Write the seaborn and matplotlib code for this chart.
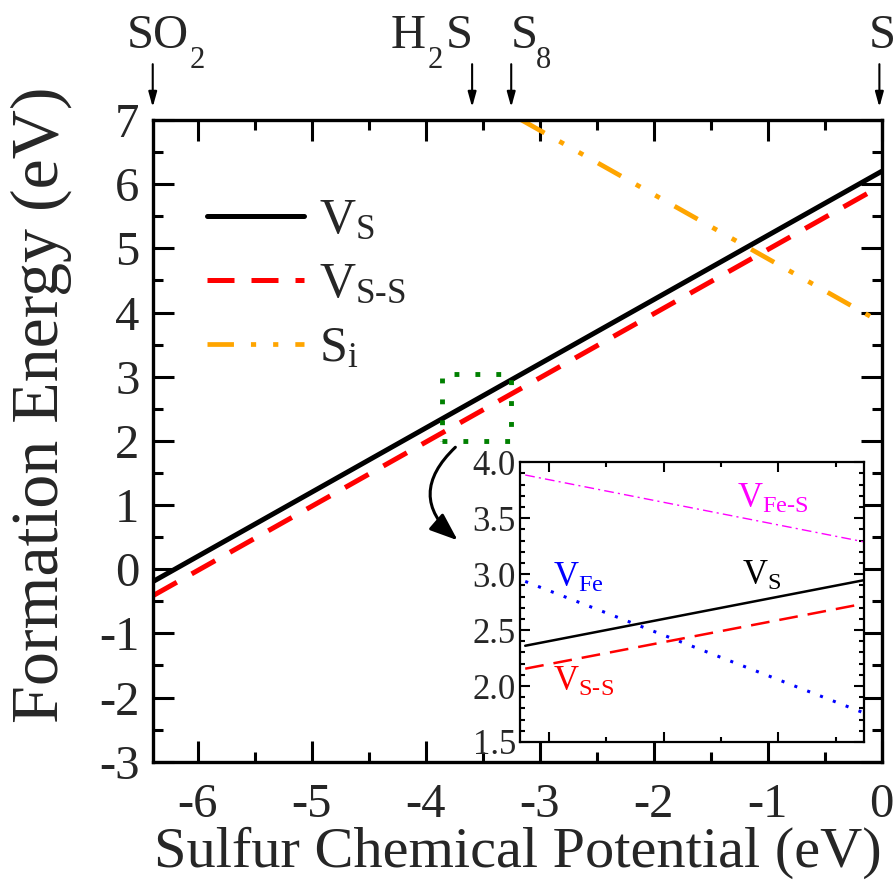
import numpy as np
import pandas as pd
import matplotlib
matplotlib.use("Agg")
import matplotlib.pyplot as plt
import matplotlib.transforms as mtransforms
from matplotlib.patches import Rectangle
import seaborn as sns

# Formation energies vs sulfur chemical potential (endpoints of each line, eV)
mu_vs = [-6.39, 0.0]
e_vs = [-0.19, 6.20]
mu_vss = [-6.39, 0.0]
e_vss = [-0.41, 5.98]
mu_si = [-3.16, -0.09]
e_si = [7.00, 3.93]

# Zoomed region (inset)
mu_inset = [-3.841, -3.252]
inset_vs = [2.36, 2.945]
inset_vss = [2.155, 2.735]
inset_vfe = [2.935, 1.762]
inset_vfes = [3.886, 3.29]

# Reference chemical potentials marked above the axes
ref_mu = [-6.395, -3.593, -3.25, -0.02]
# label pieces: (text, is_subscript, x offset in pixels from the arrow)
ref_labels = [
    [("SO", False, -26), ("2", True, 37)],
    [("H", False, -81), ("2", True, -44), ("S", False, -26)],
    [("S", False, 0), ("8", True, 25)],
    [("S", False, -11)],
]

sns.set_style("ticks")
plt.rcParams["font.family"] = ["Liberation Serif", "DejaVu Serif"]
plt.rcParams["mathtext.fontset"] = "custom"
plt.rcParams["mathtext.rm"] = "Liberation Serif"
plt.rcParams["mathtext.it"] = "Liberation Serif:italic"
plt.rcParams["mathtext.bf"] = "Liberation Serif:bold"
plt.rcParams["axes.unicode_minus"] = False

fig = plt.figure(figsize=(8.96, 8.83), dpi=100)
ax = fig.add_axes([0.1711, 0.1374, 0.8129, 0.7267])

def frame(df_mu, df_e):
    return pd.DataFrame({"mu": df_mu, "E": df_e})

sns.lineplot(data=frame(mu_vs, e_vs), x="mu", y="E", ax=ax, color="black",
             lw=3.6, label=r"$\mathrm{V_S}$")
sns.lineplot(data=frame(mu_vss, e_vss), x="mu", y="E", ax=ax, color="#ff0000",
             lw=3.6, label=r"$\mathrm{V_{S\text{-}S}}$")
sns.lineplot(data=frame(mu_si, e_si), x="mu", y="E", ax=ax, color="#ffa500",
             lw=3.4, label=r"$\mathrm{S_i}$")
lines = ax.get_lines()
lines[1].set_dashes([5.4, 3.4])
lines[2].set_dashes([5.6, 3.6, 1.1, 3.6, 1.1, 3.6])

ax.set_xlim(-6.39, 0.0)
ax.set_ylim(-3, 7)
ax.set_xticks(np.arange(-6, 0.5, 1))
ax.set_xticks(np.arange(-6.0, 0.01, 0.5), minor=True)
ax.set_yticks(np.arange(-3, 7.5, 1))
ax.set_yticks(np.arange(-3, 7.01, 0.5), minor=True)
ax.set_xticklabels([f"{v:d}" for v in range(-6, 1)])
ax.set_yticklabels([f"{v:d}" for v in range(-3, 8)])
ax.tick_params(which="both", direction="in", top=True, right=True, width=2.2,
               labelsize=35, color="black")
ax.tick_params(axis="x", pad=15)
ax.tick_params(axis="y", pad=10)
ax.tick_params(which="major", length=15)
ax.tick_params(which="minor", length=7.5)
for s in ax.spines.values():
    s.set_linewidth(2.4)
    s.set_color("black")
ax.set_xlabel("Sulfur Chemical Potential (eV)", fontsize=42, labelpad=0)
ax.set_ylabel("Formation Energy (eV)", fontsize=49)
ax.yaxis.set_label_coords(-0.112, 0.557)

ax.legend(loc="upper left", bbox_to_anchor=(0.046, 0.91), frameon=False,
          fontsize=36, handlelength=1.95, handletextpad=0.3, labelspacing=0.35,
          borderaxespad=0)

# Reference arrows and labels above the frame
trans = mtransforms.blended_transform_factory(ax.transData, ax.transAxes)
for m, pieces in zip(ref_mu, ref_labels):
    ax.annotate("", xy=(m, 1.02), xycoords=trans, xytext=(m, 1.087), textcoords=trans,
                arrowprops=dict(arrowstyle="-|>,head_length=0.9,head_width=0.25",
                                color="black", lw=1.5, shrinkA=0, shrinkB=0),
                annotation_clip=False)
    for text, sub, dx in pieces:
        dy = 52 if sub else 72
        ax.annotate(text, xy=(m, 1.0), xycoords=trans, xytext=(dx, dy),
                    textcoords="offset pixels", ha="left", va="baseline",
                    fontsize=22 if sub else 35, annotation_clip=False)

# Dotted box marking the zoomed window
ax.add_patch(Rectangle((-3.856, 2.0), 0.606, 1.04, fill=False, edgecolor="#008000",
                       lw=3.5, linestyle=(0, (1, 3.3)), zorder=5))
ax.annotate("", xy=(-3.72, 0.45), xytext=(-3.74, 1.9),
            arrowprops=dict(arrowstyle="-|>,head_length=1.7,head_width=0.65",
                            color="black", lw=2.2, connectionstyle="arc3,rad=0.55",
                            shrinkA=0, shrinkB=0))

# Inset
axi = fig.add_axes([0.5804, 0.1597, 0.3844, 0.3168])
sns.lineplot(data=frame(mu_inset, inset_vfes), x="mu", y="E", ax=axi,
             color="#ff00ff", lw=1.0)
sns.lineplot(data=frame(mu_inset, inset_vfe), x="mu", y="E", ax=axi,
             color="#0000ff", lw=2.2)
sns.lineplot(data=frame(mu_inset, inset_vs), x="mu", y="E", ax=axi,
             color="black", lw=1.8)
sns.lineplot(data=frame(mu_inset, inset_vss), x="mu", y="E", ax=axi,
             color="#ff0000", lw=1.8)
il = axi.get_lines()
il[0].set_dashes([7, 3, 1.5, 3])
il[1].set_dashes([1, 3.5])
il[3].set_dashes([7.5, 4])
axi.set_xlim(-3.85, -3.25)
axi.set_ylim(1.5, 4.0)
axi.set_xticks([-3.8, -3.6, -3.4])
axi.set_xticks([-3.7, -3.5, -3.3], minor=True)
axi.set_yticks(np.arange(1.5, 4.01, 0.5))
axi.set_yticks(np.arange(1.5, 4.01, 0.1), minor=True)
axi.set_yticklabels([f"{v:.1f}" for v in np.arange(1.5, 4.01, 0.5)])
axi.set_xticklabels([])
axi.set_xlabel("")
axi.set_ylabel("")
axi.tick_params(which="both", direction="in", top=True, right=True, width=1.5,
                labelsize=25, pad=3, color="black")
axi.tick_params(which="major", length=7)
axi.tick_params(which="minor", length=3.5)
for s in axi.spines.values():
    s.set_linewidth(1.6)
    s.set_color("black")

axi.text(-3.472, 3.59, r"$\mathrm{V_{Fe\text{-}S}}$", color="#ff00ff", fontsize=25)
axi.text(-3.793, 2.89, r"$\mathrm{V_{Fe}}$", color="#0000ff", fontsize=25)
axi.text(-3.464, 2.905, r"$\mathrm{V_S}$", color="black", fontsize=25)
axi.text(-3.793, 1.955, r"$\mathrm{V_{S\text{-}S}}$", color="#ff0000", fontsize=25)

fig.savefig("out.png", dpi=100)
